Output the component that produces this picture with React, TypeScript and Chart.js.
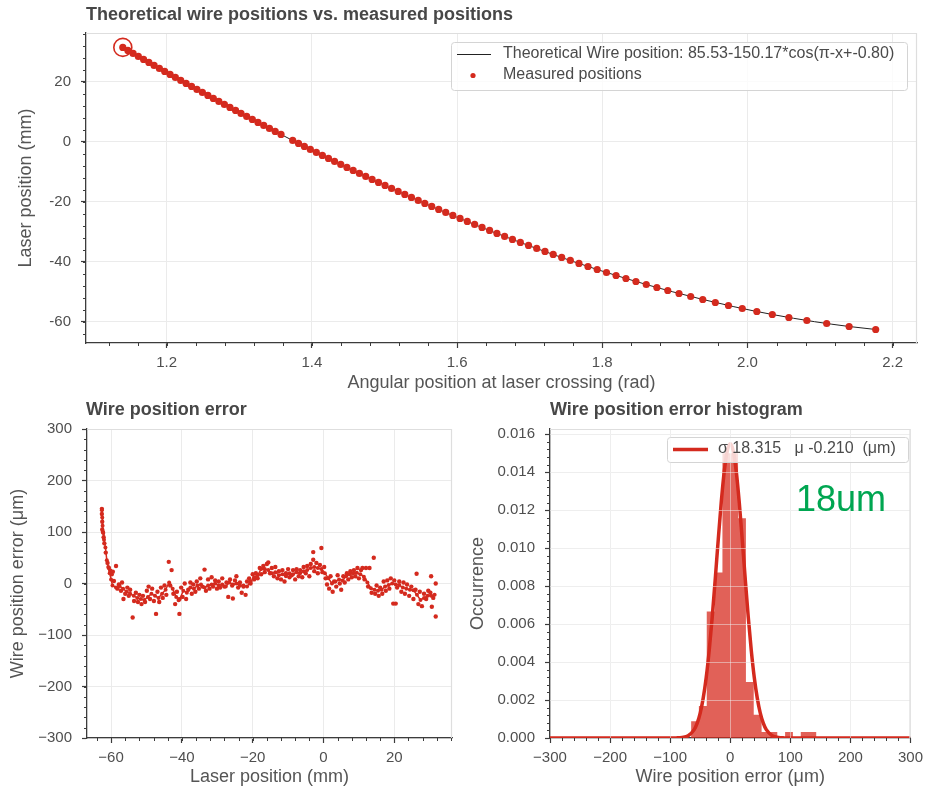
import React, { useEffect, useRef } from 'react';
import { Chart, registerables } from 'chart.js';

Chart.register(...registerables);

const FONT = "'Liberation Sans', Arial, Helvetica, sans-serif";
const RED = '#d42a1e';
const AXIS = '#3c3c3c';
const GRID = '#ebebeb';
const TICKTXT = '#4f4f4f';
const TITLE = '#474747';

// ---------- Top chart: theoretical vs measured ----------
const measAngle = [
  1.1396, 1.1466, 1.1538, 1.161, 1.1682, 1.1755, 1.1827, 1.19, 1.1973, 1.2047, 1.212, 1.2194,
  1.2268, 1.2343, 1.2417, 1.2492, 1.2568, 1.2643, 1.2719, 1.2795, 1.2872, 1.2949,
  1.3024, 1.3102, 1.318, 1.3258, 1.3337, 1.3416, 1.3495, 1.3575, 1.3736,
  1.3816, 1.3897, 1.3979, 1.4062, 1.4145, 1.4229, 1.4313, 1.4398, 1.4483, 1.4569,
  1.4655, 1.4742, 1.483, 1.4918, 1.5008, 1.5098, 1.5189, 1.528, 1.5372, 1.5465,
  1.5556, 1.5651, 1.5747, 1.5844, 1.5942, 1.6041, 1.6141, 1.6242, 1.6344, 1.6448,
  1.6549, 1.6655, 1.6763, 1.6872, 1.6984, 1.7097, 1.7211, 1.7324, 1.7441, 1.756,
  1.7679, 1.7803, 1.793, 1.8058, 1.819, 1.8326, 1.8464, 1.8606, 1.8752, 1.8902,
  1.9057, 1.9218, 1.9384, 1.9557, 1.9738, 1.9928, 2.0129, 2.0342, 2.057, 2.0818,
  2.1091, 2.14, 2.1766,
];
const measPos = [
  31.4, 30.4, 29.4, 28.4, 27.4, 26.4, 25.4, 24.4, 23.4, 22.4, 21.4, 20.4,
  19.4, 18.4, 17.4, 16.4, 15.4, 14.4, 13.4, 12.4, 11.4, 10.4,
  9.4, 8.4, 7.4, 6.4, 5.4, 4.4, 3.4, 2.4, 0.4,
  -0.6, -1.6, -2.6, -3.6, -4.6, -5.6, -6.6, -7.6, -8.6, -9.6,
  -10.6, -11.6, -12.6, -13.6, -14.6, -15.6, -16.6, -17.6, -18.6, -19.6,
  -20.6, -21.6, -22.6, -23.6, -24.6, -25.6, -26.6, -27.6, -28.6, -29.6,
  -30.6, -31.6, -32.6, -33.6, -34.6, -35.6, -36.6, -37.6, -38.6, -39.6,
  -40.6, -41.6, -42.6, -43.6, -44.6, -45.6, -46.6, -47.6, -48.6, -49.6,
  -50.6, -51.6, -52.6, -53.6, -54.6, -55.6, -56.6, -57.6, -58.6, -59.6,
  -60.6, -61.6, -62.6,
];
const theoAngle = [1.1396, 1.2224, 1.2978, 1.3767, 1.4603, 1.55, 1.6486, 1.7606, 1.8326, 1.8963, 1.9813, 2.0342, 2.0924, 2.14, 2.1766];
const theoPos = [31.4, 20, 10, 0, -10, -20, -30, -40, -45.6, -50, -55, -57.6, -60, -61.6, -62.6];
const topXTicks = [1.2, 1.4, 1.6, 1.8, 2.0, 2.2];
const topXLabels = ['1.2', '1.4', '1.6', '1.8', '2.0', '2.2'];
const topYTicks = [-60, -40, -20, 0, 20];
const topYLabels = ['-60', '-40', '-20', '0', '20'];

// ---------- Bottom left: wire position error ----------
const errLineX = [
  -62.6, -62.5, -62.4, -62.2, -62.0, -61.6, -61.2, -60.8, -60.4, -60.0,
  -59.6, -58.6, -57.6, -56.6, -55.6, -54.6, -53.6, -52.6, -51.6, -50.6,
  -49.6, -48.6, -47.6, -46.6, -45.6, -44.6, -43.6, -42.6, -41.6, -40.6,
  -39.6, -38.6, -37.6, -36.6, -35.6, -34.6, -33.6, -32.6, -31.6, -30.6,
  -29.6, -28.6, -27.6, -26.6, -25.6, -24.6, -23.6, -22.6, -21.6, -20.6,
  -19.6, -18.6, -17.6, -16.6, -15.6, -14.6, -13.6, -12.6, -11.6, -10.6,
  -9.6, -8.6, -7.6, -6.6, -5.6, -4.6, -3.6, -2.6, -1.6, -0.6,
  0.4, 1.4, 2.4, 3.4, 4.4, 5.4, 6.4, 7.4, 8.4, 9.4,
  10.4, 11.4, 12.4, 13.4, 14.4, 15.4, 16.4, 17.4, 18.4, 19.4,
  20.4, 21.4, 22.4, 23.4, 24.4, 25.4, 26.4, 27.4, 28.4, 29.4,
  30.4, 31.4,
];
const errLineY = [
  142, 128, 112, 98, 85, 70, 45, 32, 20, 8,
  -4, -8, -5, -10, -16, -20, -24, -28, -30, -32,
  -26, -20, -24, -28, -20, -12, 2, -10, -26, -30,
  -14, -18, -8, -10, -4, -2, -8, -4, -2, 0,
  -4, -2, -6, 2, -2, 0, -4, -4, -6, 4,
  12, 16, 28, 28, 26, 20, 22, 16, 18, 14,
  20, 18, 22, 20, 24, 26, 30, 32, 30, 28,
  20, 10, 0, 4, 8, 6, 14, 18, 20, 21,
  18, 13, 2, -9, -12, -14, -12, -6, -3, 0,
  -2, -3, -8, -10, -12, -13, -22, -32, -28, -24,
  -24, -22,
];
const errDotX = [
  -62.6, -62.6, -62.5, -62.5, -62.3, -62.1, -61.9, -61.5, -61.0, -60.6, -60.2, -59.8, -59.5, -59.2, -58.6, -58.2, -57.8, -57.2, -56.9, -56.5,
  -56.0, -55.4, -55.0, -54.6, -53.9, -53.5, -53.0, -52.4, -52.0, -51.4, -51.0, -50.4, -49.9, -49.4, -49.0, -48.4, -47.9, -47.3, -46.9, -46.4,
  -45.9, -45.4, -44.9, -44.4, -43.7, -43.3, -42.9, -42.4, -41.9, -41.4, -40.9, -40.7, -40.2, -39.8, -39.2, -38.8, -38.2, -37.6, -37.2, -36.8,
  -36.2, -35.8, -35.2, -34.8, -34.2, -33.6, -33.2, -32.6, -32.2, -31.6, -31.2, -30.6, -30.1, -29.6, -29.2, -28.6, -28.0, -27.4, -26.9, -26.4,
  -25.8, -25.6, -25.0, -24.6, -24.1, -23.6, -23.1, -22.6, -22.0, -21.6, -21.0, -20.6, -20.0, -19.6, -19.1, -18.6, -18.0, -17.6, -17.0, -16.6,
  -16.0, -15.6, -15.1, -14.6, -14.0, -13.6, -13.0, -12.6, -12.0, -11.6, -11.0, -10.6, -10.0, -9.6, -9.0, -8.6, -8.0, -7.6, -7.0, -6.6,
  -6.0, -5.6, -5.0, -4.6, -4.0, -3.6, -2.9, -2.9, -2.6, -2.0, -1.6, -1.0, -0.6, -0.3, 0.2, 0.6, 1.0, 1.6, 2.0, 2.6,
  3.0, 3.6, 4.0, 4.6, 5.0, 5.6, 6.0, 6.6, 7.0, 7.6, 8.0, 8.6, 9.0, 9.6, 10.0, 10.6, 11.0, 11.6, 12.0, 12.6,
  13.0, 13.6, 14.2, 14.6, 15.0, 15.6, 16.0, 16.6, 17.0, 17.6, 18.0, 18.6, 19.0, 19.7, 20.0, 20.4, 20.8, 21.4, 22.0, 22.6,
  23.0, 23.6, 24.2, 24.8, 25.4, 26.0, 26.3, 26.8, 27.2, 27.8, 28.4, 29.0, 29.6, 30.2, 30.4, 30.6, 31.0, 31.7, 31.7,
];
const errDotY = [
  145, 135, 120, 105, 100, 90, 78, 60, 40, 30, 25, 18, 23, 5, 34, -10, -2, -14, 2, -30,
  -20, -8, -24, -12, -66, -34, -18, -36, -22, -40, -24, -36, -14, -6, -30, -10, -34, -59, -16, -36,
  -8, -28, -4, -22, 42, -4, 26, -20, -40, -16, -32, -59, -8, -26, 0, -30, -12, 2, -20, -2,
  -16, 4, -10, 10, -6, 27, -14, 8, -10, 12, -6, 6, -10, 4, -8, 10, -6, 2, -26, 8,
  -4, -29, 6, 14, -8, 2, -18, -6, -22, 4, 10, 0, 18, 8, 20, 10, 30, 18, 34, 22,
  38, 41, 20, 30, 14, 32, 10, 24, 8, 26, 4, 20, 28, 12, 16, 26, 8, 28, 14, 26,
  12, 32, 20, 34, 14, 38, 61, 46, 24, 40, 20, 36, 69, 22, 32, 10, -2, -10, 14, -16,
  4, -6, 16, 0, -12, 14, 2, 20, 8, 24, 12, 26, 14, 30, 10, 26, 30, 8, 30, -6,
  30, -18, 50, -20, -4, -24, -8, -20, 4, -14, 6, -10, 10, -39, 6, -39, -8, 4, -16, 2,
  -20, -2, -24, -6, -30, -12, 19, -40, -16, -44, -20, -30, -14, -18, 14, -45, -28, 0, -64,
];
const errXTicks = [-60, -40, -20, 0, 20];
const errXLabels = ['\u221260', '\u221240', '\u221220', '0', '20'];
const errYTicks = [-300, -200, -100, 0, 100, 200, 300];
const errYLabels = ['\u2212300', '\u2212200', '\u2212100', '0', '100', '200', '300'];

// ---------- Bottom right: histogram ----------
const histEdges = [-65.2, -52.2, -39.1, -26.1, -13.0, 0, 13.0, 26.1, 39.1, 52.2, 65.2, 78.3, 91.3, 104.3, 117.4, 130.4, 143.5];
const histDensity = [0.00088, 0.00168, 0.00667, 0.00872, 0.0150, 0.0150, 0.01158, 0.00295, 0.00123, 0.00032, 0.00032, 0, 0.00032, 0, 0.00032, 0.00032];
const fitX = [-300, -100, -90, -80, -70, -60, -55, -50, -45, -40, -35, -30, -25, -20, -15, -10, -5, 0, 5, 10, 15, 20, 25, 30, 35, 40, 45, 50, 55, 60, 70, 80, 90, 100, 300];
const fitY = [0, 0, 0.000005, 0.00003, 0.00012, 0.00044, 0.00078, 0.00131, 0.0021, 0.00319, 0.00462, 0.00637, 0.00836, 0.01044, 0.01241, 0.01404, 0.01512, 0.0155, 0.01512, 0.01404, 0.01241, 0.01044, 0.00836, 0.00637, 0.00462, 0.00319, 0.0021, 0.00131, 0.00078, 0.00044, 0.00012, 0.00003, 0.000005, 0, 0];
const histXTicks = [-300, -200, -100, 0, 100, 200, 300];
const histXLabels = ['\u2212300', '\u2212200', '\u2212100', '0', '100', '200', '300'];
const histYTicks = [0, 0.002, 0.004, 0.006, 0.008, 0.01, 0.012, 0.014, 0.016];
const histYLabels = ['0.000', '0.002', '0.004', '0.006', '0.008', '0.010', '0.012', '0.014', '0.016'];

// ---------- helpers ----------
function linAxis(pos: string, min: number, max: number, ticks: number[], labels: string[], fit: number) {
  return {
    type: 'linear',
    position: pos,
    min,
    max,
    afterBuildTicks: (s: any) => {
      s.ticks = ticks.map((v) => ({ value: v }));
    },
    afterFit: (s: any) => {
      if (pos === 'left') s.width = fit;
      else s.height = fit;
    },
    grid: { color: GRID, lineWidth: 1, tickColor: AXIS, tickLength: 5, tickWidth: 1.2, drawTicks: true },
    border: { color: AXIS, width: 1.3 },
    ticks: {
      color: TICKTXT,
      font: { family: FONT, size: 15 },
      padding: pos === 'left' ? 10 : 6,
      autoSkip: false,
      maxRotation: 0,
      minRotation: 0,
      callback: (_v: any, i: number) => labels[i],
    },
  };
}

type DecorCfg = {
  key: string;
  title: string;
  titleX: number;
  titleY: number;
  xTitle: string;
  xTitleY: number;
  yTitle: string;
  yTitleX: number;
  xMinor: number;
  yMinor: number;
  gridOver?: { xs: number[]; ys: number[] };
  extra?: (ctx: CanvasRenderingContext2D, chart: any) => void;
};

function roundRect(ctx: CanvasRenderingContext2D, x: number, y: number, w: number, h: number, r: number) {
  ctx.beginPath();
  ctx.moveTo(x + r, y);
  ctx.lineTo(x + w - r, y);
  ctx.quadraticCurveTo(x + w, y, x + w, y + r);
  ctx.lineTo(x + w, y + h - r);
  ctx.quadraticCurveTo(x + w, y + h, x + w - r, y + h);
  ctx.lineTo(x + r, y + h);
  ctx.quadraticCurveTo(x, y + h, x, y + h - r);
  ctx.lineTo(x, y + r);
  ctx.quadraticCurveTo(x, y, x + r, y);
  ctx.closePath();
}

function decor(cfg: DecorCfg) {
  return {
    id: 'decor_' + cfg.key,
    afterDatasetsDraw(chart: any) {
      if (!cfg.gridOver) return;
      const { ctx, chartArea: a } = chart;
      const xs = chart.scales.x;
      const ys = chart.scales.y;
      ctx.save();
      ctx.strokeStyle = 'rgba(242,242,242,0.5)';
      ctx.lineWidth = 1;
      ctx.beginPath();
      cfg.gridOver.xs.forEach((v) => {
        const p = Math.round(xs.getPixelForValue(v)) + 0.5;
        if (p <= a.left + 1 || p >= a.right - 1) return;
        ctx.moveTo(p, a.top);
        ctx.lineTo(p, a.bottom);
      });
      cfg.gridOver.ys.forEach((v) => {
        const p = Math.round(ys.getPixelForValue(v)) + 0.5;
        if (p <= a.top + 1 || p >= a.bottom - 1) return;
        ctx.moveTo(a.left, p);
        ctx.lineTo(a.right, p);
      });
      ctx.stroke();
      ctx.restore();
    },
    afterDraw(chart: any) {
      const { ctx, chartArea: a } = chart;
      const xs = chart.scales.x;
      const ys = chart.scales.y;
      ctx.save();
      // light top / right frame
      ctx.strokeStyle = '#dedede';
      ctx.lineWidth = 1.2;
      ctx.beginPath();
      ctx.moveTo(a.left, a.top + 0.5);
      ctx.lineTo(a.right - 0.5, a.top + 0.5);
      ctx.lineTo(a.right - 0.5, a.bottom);
      ctx.stroke();
      // minor ticks
      ctx.strokeStyle = AXIS;
      ctx.lineWidth = 1;
      ctx.beginPath();
      const kx0 = Math.ceil(xs.min / cfg.xMinor - 1e-9);
      const kx1 = Math.floor(xs.max / cfg.xMinor + 1e-9);
      for (let k = kx0; k <= kx1; k++) {
        const p = Math.round(xs.getPixelForValue(k * cfg.xMinor)) + 0.5;
        ctx.moveTo(p, a.bottom);
        ctx.lineTo(p, a.bottom + 3);
      }
      const ky0 = Math.ceil(ys.min / cfg.yMinor - 1e-9);
      const ky1 = Math.floor(ys.max / cfg.yMinor + 1e-9);
      for (let k = ky0; k <= ky1; k++) {
        const p = Math.round(ys.getPixelForValue(k * cfg.yMinor)) + 0.5;
        ctx.moveTo(a.left, p);
        ctx.lineTo(a.left - 3, p);
      }
      ctx.stroke();
      // title
      ctx.fillStyle = TITLE;
      ctx.font = `bold 18px ${FONT}`;
      ctx.textAlign = 'left';
      ctx.textBaseline = 'middle';
      ctx.fillText(cfg.title, cfg.titleX, cfg.titleY);
      // axis titles
      ctx.fillStyle = '#555555';
      ctx.font = `18px ${FONT}`;
      ctx.textAlign = 'center';
      ctx.fillText(cfg.xTitle, (a.left + a.right) / 2, cfg.xTitleY);
      ctx.save();
      ctx.translate(cfg.yTitleX, (a.top + a.bottom) / 2);
      ctx.rotate(-Math.PI / 2);
      ctx.fillText(cfg.yTitle, 0, 0);
      ctx.restore();
      if (cfg.extra) cfg.extra(ctx, chart);
      ctx.restore();
    },
  };
}

const baseOpts = {
  responsive: false,
  animation: false,
  events: [],
  plugins: { legend: { display: false }, tooltip: { enabled: false }, title: { display: false } },
};

export default function App() {
  const c1 = useRef<HTMLCanvasElement>(null);
  const c2 = useRef<HTMLCanvasElement>(null);
  const c3 = useRef<HTMLCanvasElement>(null);

  useEffect(() => {
    const charts: Chart[] = [];

    // ----- top chart -----
    charts.push(
      new Chart(c1.current as HTMLCanvasElement, {
        type: 'scatter',
        data: {
          datasets: [
            {
              label: 'first',
              data: [{ x: measAngle[0], y: measPos[0] }],
              showLine: false,
              backgroundColor: 'rgba(0,0,0,0)',
              borderColor: RED,
              borderWidth: 1.6,
              pointRadius: 9,
            },
            {
              label: 'Measured positions',
              data: measAngle.map((x, i) => ({ x, y: measPos[i] })),
              showLine: false,
              backgroundColor: RED,
              borderWidth: 0,
              pointRadius: 3.6,
            },
            {
              label: 'Theoretical',
              data: theoAngle.map((x, i) => ({ x, y: theoPos[i] })),
              showLine: true,
              borderColor: '#222222',
              borderWidth: 1,
              pointRadius: 0,
              cubicInterpolationMode: 'monotone',
            },
          ],
        },
        options: {
          ...baseOpts,
          layout: { padding: { top: 33, right: 12, left: 0, bottom: 0 } },
          scales: {
            x: linAxis('bottom', 1.0889, 2.2335, topXTicks, topXLabels, 52),
            y: linAxis('left', -67.1, 36.2, topYTicks, topYLabels, 86),
          },
        } as any,
        plugins: [
          decor({
            key: 'top',
            title: 'Theoretical wire positions vs. measured positions',
            titleX: 86,
            titleY: 15,
            xTitle: 'Angular position at laser crossing (rad)',
            xTitleY: 383,
            yTitle: 'Laser position (mm)',
            yTitleX: 26,
            xMinor: 0.04,
            yMinor: 4,
            extra: (ctx) => {
              ctx.fillStyle = 'rgba(255,255,255,0.8)';
              ctx.strokeStyle = '#d4d4d4';
              ctx.lineWidth = 1;
              roundRect(ctx, 451.5, 42.5, 456, 48, 3);
              ctx.fill();
              ctx.stroke();
              ctx.strokeStyle = '#222222';
              ctx.beginPath();
              ctx.moveTo(457, 54.5);
              ctx.lineTo(491, 54.5);
              ctx.stroke();
              ctx.fillStyle = RED;
              ctx.beginPath();
              ctx.arc(473, 75.5, 2.6, 0, Math.PI * 2);
              ctx.fill();
              ctx.fillStyle = '#4a4a4a';
              ctx.font = `16px ${FONT}`;
              ctx.textAlign = 'left';
              ctx.textBaseline = 'middle';
              ctx.fillText('Theoretical Wire position: 85.53-150.17*cos(\u03c0-x+-0.80)', 503, 54);
              ctx.fillText('Measured positions', 503, 75);
            },
          }),
        ],
      })
    );

    // ----- bottom left -----
    charts.push(
      new Chart(c2.current as HTMLCanvasElement, {
        type: 'scatter',
        data: {
          datasets: [
            {
              label: 'line',
              data: errLineX.map((x, i) => ({ x, y: errLineY[i] })),
              showLine: true,
              borderColor: RED,
              borderWidth: 1.5,
              backgroundColor: RED,
              pointRadius: 2,
              pointBorderWidth: 0,
            },
            {
              label: 'dots',
              data: errDotX.map((x, i) => ({ x, y: errDotY[i] })),
              showLine: false,
              backgroundColor: RED,
              borderWidth: 0,
              pointRadius: 2.2,
            },
          ],
        },
        options: {
          ...baseOpts,
          layout: { padding: { top: 34, right: 13, left: 0, bottom: 0 } },
          scales: {
            x: linAxis('bottom', -66.8, 36.3, errXTicks, errXLabels, 53),
            y: linAxis('left', -300, 300, errYTicks, errYLabels, 87),
          },
        } as any,
        plugins: [
          decor({
            key: 'err',
            title: 'Wire position error',
            titleX: 86,
            titleY: 15,
            xTitle: 'Laser position (mm)',
            xTitleY: 382,
            yTitle: 'Wire position error (\u03bcm)',
            yTitleX: 18,
            xMinor: 4,
            yMinor: 20,
          }),
        ],
      })
    );

    // ----- bottom right -----
    const histPts = histEdges.map((e, i) => ({ x: e, y: i < histDensity.length ? histDensity[i] : 0 }));
    charts.push(
      new Chart(c3.current as HTMLCanvasElement, {
        type: 'scatter',
        data: {
          datasets: [
            {
              label: 'fit',
              data: fitX.map((x, i) => ({ x, y: fitY[i] })),
              showLine: true,
              borderColor: RED,
              borderWidth: 3.5,
              pointRadius: 0,
              cubicInterpolationMode: 'monotone',
            },
            {
              label: 'hist',
              data: histPts,
              showLine: true,
              stepped: 'before',
              fill: 'origin',
              backgroundColor: 'rgba(214,42,30,0.74)',
              borderWidth: 0,
              borderColor: 'rgba(0,0,0,0)',
              pointRadius: 0,
            },
          ],
        },
        options: {
          ...baseOpts,
          layout: { padding: { top: 34, right: 14, left: 0, bottom: 0 } },
          scales: {
            x: linAxis('bottom', -300, 300, histXTicks, histXLabels, 53),
            y: linAxis('left', 0, 0.01628, histYTicks, histYLabels, 85),
          },
        } as any,
        plugins: [
          decor({
            key: 'hist',
            title: 'Wire position error histogram',
            titleX: 85,
            titleY: 15,
            xTitle: 'Wire position error (\u03bcm)',
            xTitleY: 382,
            yTitle: 'Occurrence',
            yTitleX: 13.5,
            xMinor: 20,
            yMinor: 0.0004,
            gridOver: { xs: histXTicks, ys: histYTicks },
            extra: (ctx) => {
              ctx.fillStyle = 'rgba(255,255,255,0.8)';
              ctx.strokeStyle = '#d4d4d4';
              ctx.lineWidth = 1;
              roundRect(ctx, 202.5, 42.5, 241, 25, 3);
              ctx.fill();
              ctx.stroke();
              ctx.strokeStyle = RED;
              ctx.lineWidth = 3.5;
              ctx.beginPath();
              ctx.moveTo(208, 54.5);
              ctx.lineTo(243, 54.5);
              ctx.stroke();
              ctx.fillStyle = '#4a4a4a';
              ctx.font = `16px ${FONT}`;
              ctx.textAlign = 'left';
              ctx.textBaseline = 'middle';
              ctx.fillText('\u03c3 18.315   \u03bc -0.210  (\u03bcm)', 253, 54);
              ctx.fillStyle = '#00a651';
              ctx.font = `36px ${FONT}`;
              ctx.textBaseline = 'alphabetic';
              ctx.fillText('18um', 331, 116);
            },
          }),
        ],
      })
    );

    return () => charts.forEach((c) => c.destroy());
  }, []);

  return (
    <div style={{ position: 'absolute', left: 0, top: 0, width: 929, height: 791, background: '#ffffff', overflow: 'hidden' }}>
      <canvas ref={c1} width={929} height={395} style={{ position: 'absolute', left: 0, top: 0, width: 929, height: 395 }} />
      <canvas ref={c2} width={465} height={396} style={{ position: 'absolute', left: 0, top: 395, width: 465, height: 396 }} />
      <canvas ref={c3} width={464} height={396} style={{ position: 'absolute', left: 465, top: 395, width: 464, height: 396 }} />
    </div>
  );
}
